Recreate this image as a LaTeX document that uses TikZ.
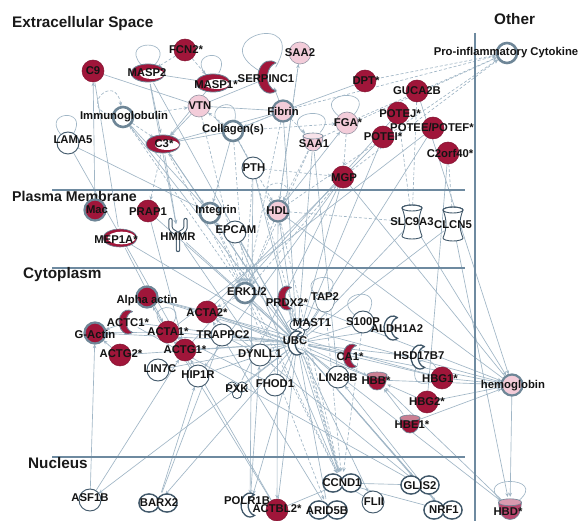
\documentclass[tikz,border=0pt]{standalone}
\usepackage{fontspec}
\setmainfont{Liberation Sans}
\usetikzlibrary{arrows.meta}
\definecolor{nred}{RGB}{160,22,58}
\definecolor{nredd}{RGB}{130,20,50}
\definecolor{npink}{RGB}{243,204,217}
\definecolor{npinkd}{RGB}{150,150,165}
\definecolor{ngrey}{RGB}{110,134,151}
\definecolor{ndark}{RGB}{65,88,106}
\definecolor{edgec}{RGB}{160,182,198}
\definecolor{sepc}{RGB}{110,138,160}
\definecolor{hbdc}{RGB}{184,69,109}
\pgfdeclarelayer{bg}
\pgfsetlayers{bg,main}
\tikzset{
  anc/.style={circle,minimum size=22pt,inner sep=0pt,draw=none},
  lab/.style={font=\fontsize{11.3}{12}\selectfont\bfseries,inner sep=0pt,text=black!92},
  ttl/.style={font=\fontsize{15.3}{17}\selectfont\bfseries,inner sep=0pt,anchor=base west,text=black!90},
  eA/.style={draw=edgec,line width=0.65pt,-{Stealth[length=4pt,width=3.5pt]}},
  lA/.style={draw=edgec,line width=0.65pt},
  dA/.style={draw=edgec,line width=0.65pt,dash pattern=on 3pt off 2pt,-{Stealth[length=4pt,width=3.5pt]}},
  sep/.style={draw=sepc,line width=1.2pt},
  pics/redc/.style={code={\filldraw[fill=nred,draw=nredd,line width=0.5pt] (0pt,0pt) circle[radius=11pt];}},
  pics/pinkc/.style={code={\filldraw[fill=npink,draw=npinkd,line width=0.6pt] (0pt,0pt) circle[radius=11pt];}},
  pics/whitec/.style={code={\filldraw[fill=white,draw=ndark,line width=0.9pt] (0pt,0pt) circle[radius=11pt];}},
  pics/ring/.style={code={\filldraw[fill=white,draw=ngrey,line width=2.6pt] (0pt,0pt) circle[radius=10pt];}},
  pics/redring/.style={code={\filldraw[fill=nred,draw=ngrey,line width=2.2pt] (0pt,0pt) circle[radius=10.5pt];}},
  pics/pinkring/.style={code={\filldraw[fill=npink,draw=ngrey,line width=2.2pt] (0pt,0pt) circle[radius=10.5pt];}},
  pics/pept/.style={code={\filldraw[fill=nred,draw=ngrey,line width=0.8pt] (0pt,0pt) ellipse[x radius=17pt,y radius=9pt];
     \fill[white] (4pt,-1pt) ellipse[x radius=12pt,y radius=5pt];}},
  pics/peptw/.style={code={\filldraw[fill=nred,draw=ngrey,line width=0.6pt] (0pt,0pt) ellipse[x radius=17pt,y radius=9pt];
     \fill[white] (1.5pt,0pt) ellipse[x radius=14pt,y radius=6.3pt];}},
  pics/rcres/.style={code={\filldraw[fill=nred,draw=ngrey,line width=0.8pt,xscale=0.75] (60:12pt) arc[start angle=60,end angle=300,radius=12pt] arc[start angle=259.1,end angle=100.9,radius=10.58pt] -- cycle;}},
  pics/wcres/.style={code={\filldraw[fill=white,draw=ndark,line width=1.3pt,xscale=0.75] (60:12pt) arc[start angle=60,end angle=300,radius=12pt] arc[start angle=259.1,end angle=100.9,radius=10.58pt] -- cycle;}},
  pics/cup/.style={code={\filldraw[fill=#1,draw=ngrey,line width=0.6pt] (-10pt,5pt) .. controls (-9pt,-6pt) and (-6pt,-10pt) .. (0pt,-10pt) .. controls (6pt,-10pt) and (9pt,-6pt) .. (10pt,5pt) -- cycle;
     \filldraw[fill=#1!55!white,draw=ngrey,line width=0.6pt] (0pt,5pt) ellipse[x radius=10pt,y radius=3pt];}},
  pics/barrel/.style={code={\filldraw[fill=white,draw=ndark,line width=0.9pt] (-10pt,14pt) .. controls (-6pt,4pt) and (-6pt,-4pt) .. (-10pt,-14pt) arc[start angle=180,end angle=360,x radius=10pt,y radius=3pt] .. controls (6pt,-4pt) and (6pt,4pt) .. (10pt,14pt) arc[start angle=0,end angle=180,x radius=10pt,y radius=3pt] -- cycle;
     \draw[ndark,line width=0.9pt] (0pt,14pt) ellipse[x radius=10pt,y radius=3pt];}},
  pics/ypic/.style={code={
     \draw[ndark,line width=4.4pt,line cap=round] (-6pt,12pt) -- (-6pt,6pt) to[out=-90,in=90] (0pt,-1pt) -- (0pt,-12pt) (6pt,12pt) -- (6pt,6pt) to[out=-90,in=90] (0pt,-1pt);
     \draw[white,line width=2.4pt,line cap=round] (-6pt,12pt) -- (-6pt,6pt) to[out=-90,in=90] (0pt,-1pt) -- (0pt,-12pt) (6pt,12pt) -- (6pt,6pt) to[out=-90,in=90] (0pt,-1pt);}},
  pics/kinase/.style={code={
     \filldraw[fill=white,draw=ndark,line width=1pt] (-5pt,3pt) circle[radius=5pt] (5pt,3pt) circle[radius=5pt] (0pt,-4pt) circle[radius=4.5pt];
     \fill[white] (-5pt,3pt) circle[radius=4.4pt] (5pt,3pt) circle[radius=4.4pt] (0pt,-4pt) circle[radius=3.9pt];}},
  pics/tr/.style={code={
     \filldraw[fill=white,draw=ndark,line width=1.6pt] (-9pt,0pt) ellipse[x radius=10pt,y radius=9pt] (9pt,0pt) ellipse[x radius=10pt,y radius=9pt];
     \fill[white] (-9pt,0pt) ellipse[x radius=9.1pt,y radius=8.1pt] (9pt,0pt) ellipse[x radius=9.1pt,y radius=8.1pt];}},
}
\newcommand\gene[6][1]{%
  \pic[scale=#1] at (#3) {#4};
  \node[anc] (#2) at (#3) {};
  \node[lab] (#2t) at (#6) {#5};
}
\begin{document}
\begin{tikzpicture}[x=1pt,y=-1pt]
\useasboundingbox (0,0) rectangle (582,521);
\begin{pgfonlayer}{bg}
\fill[white] (0,0) rectangle (582,521);
\end{pgfonlayer}

% compartments
\draw[sep] (52,190) -- (465,190);
\draw[sep] (52,268) -- (465,268);
\draw[sep] (52,457) -- (465,457);
\draw[sep] (475,33) -- (475,521);
\node[ttl] (t1) at (12,28) {Extracellular Space};
\node[ttl] (t2) at (494,25) {Other};
\node[ttl,font=\fontsize{14.2}{16}\selectfont\bfseries] (t3) at (12,202) {Plasma Membrane};
\node[ttl] (t4) at (23,279) {Cytoplasm};
\node[ttl] (t5) at (28,469) {Nucleus};

% extracellular
\gene{C9}{93,71}{redc}{C9}{93,71}
\gene{FCN2}{185,50}{redc}{FCN2*}{186,50}
\gene{MASP2}{148,73}{pept}{MASP2}{147,73}
\gene{MASP1}{213,83}{pept}{MASP1*}{216,85}
\gene[1.35]{SERPINC1}{270,77}{rcres}{SERPINC1}{266,79}
\gene{SAA2}{300,53}{pinkc}{SAA2}{300,53}
\gene{VTN}{199,106}{pinkc}{VTN}{200,106}
\gene{IG}{123,117}{ring}{Immunoglobulin}{124,117}
\gene{Fibrin}{283,111}{pinkring}{Fibrin}{283,111}
\gene{LAMA5}{68,143}{whitec}{LAMA5}{73,140}
\gene{C3}{163,144}{pept}{C3*}{164,144}
\gene{COL}{233,131}{ring}{Collagen(s)}{233,130}
\gene{PTH}{253,168}{whitec}{PTH}{254,168}
\gene{SAA1}{313,141}{cup=npink}{SAA1}{314,144}
\gene{FGA}{347,123}{pinkc}{FGA*}{348,123}
\gene{DPT}{365,81}{redc}{DPT*}{366,81}
\gene{GUCA2B}{417,91}{redc}{GUCA2B}{417,91}
\gene{POTEJ}{398,113}{redc}{POTEJ*}{400,114}
\gene{POTEE}{433,128}{redc}{POTEE/POTEF*}{432,128}
\gene{POTEI}{383,137}{redc}{POTEI*}{383,137}
\gene{C2orf40}{448,153}{redc}{C2orf40*}{450,153}
\gene{MGP}{343,177}{redc}{MGP}{344,178}
\gene{PIC}{507,53}{ring}{Pro-inflammatory Cytokine}{506,53}

% plasma membrane
\gene{Mac}{95,210}{redring}{Mac}{97,210}
\gene{PRAP1}{148,211}{redc}{PRAP1}{148,212}
\gene{MEP1A}{120,238}{peptw}{MEP1A*}{116,240}
\gene[1.25]{HMMR}{178,235}{ypic}{HMMR}{178,237}
\gene{Integrin}{210,213}{ring}{Integrin}{216,211}
\gene{EPCAM}{235,232}{whitec}{EPCAM}{236,230}
\gene{HDL}{278,211}{pinkring}{HDL}{278,211}
\gene{SLC9A3}{412,222}{barrel}{SLC9A3}{412,222}
\gene{CLCN5}{453,224}{barrel}{CLCN5}{453,225}

% cytoplasm
\gene{ERK}{245,293}{ring}{ERK1/2}{247,292}
\gene{PRDX2}{287,298}{rcres}{PRDX2*}{287,303}
\gene{TAP2}{325,302}{cup=white}{TAP2}{325,297}
\gene{MAST1}{300,328}{kinase}{MAST1}{312,323}
\gene{UBC}{297,343}{wcres}{UBC}{295,341}
\gene{ALDH1A2}{393,328}{wcres}{ALDH1A2}{397,329}
\gene{S100P}{363,322}{whitec}{S100P}{363,322}
\gene{HSD17B7}{420,357}{wcres}{HSD17B7}{419,356}
\gene{CA1}{352,356}{rcres}{CA1*}{350,357}
\gene{LIN28B}{338,377}{whitec}{LIN28B}{338,378}
\gene{HBB}{377,380}{cup=nred}{HBB*}{376,381}
\gene{HBG1}{442,378}{redc}{HBG1*}{440,379}
\gene{HBG2}{427,402}{redc}{HBG2*}{427,402}
\gene{HBE1}{410,423}{cup=nred}{HBE1*}{412,425}
\gene{HEMO}{512,385}{pinkring}{hemoglobin}{513,386}
\gene{AA}{147,297}{redring}{Alpha actin}{147,301}
\gene{ACTC1}{128,322}{rcres}{ACTC1*}{128,323}
\gene{GACT}{95,333}{redring}{G-Actin}{95,334}
\gene{ACTA1}{168,332}{redc}{ACTA1*}{168,332}
\gene{ACTA2}{207,312}{redc}{ACTA2*}{207,313}
\gene{TRAPPC2}{222,335}{whitec}{TRAPPC2}{223,335}
\gene{ACTG2}{120,355}{redc}{ACTG2*}{121,354}
\gene{ACTG1}{185,350}{redc}{ACTG1*}{185,350}
\gene{DYNLL1}{260,355}{whitec}{DYNLL1}{260,354}
\gene{LIN7C}{158,370}{whitec}{LIN7C}{160,369}
\gene{HIP1R}{198,376}{whitec}{HIP1R}{198,375}
\gene{PXK}{237,390}{kinase}{PXK}{237,389}
\gene{FHOD1}{275,385}{whitec}{FHOD1}{275,384}

% nucleus
\gene{ASF1B}{90,500}{whitec}{ASF1B}{90,498}
\gene{BARX2}{158,503}{tr}{BARX2}{159,503}
\gene{POLR1B}{250,505}{wcres}{POLR1B}{247,501}
\gene{ACTBL2}{277,510}{redc}{ACTBL2*}{277,509}
\gene{CCND1}{342,483}{tr}{CCND1}{342,483}
\gene{ARID5B}{328,510}{tr}{ARID5B}{327,511}
\gene{FLII}{373,502}{whitec}{FLII}{374,502}
\gene{GLIS2}{420,485}{tr}{GLIS2}{420,486}
\gene{NRF1}{443,510}{tr}{NRF1}{444,510}
\gene[1.15]{HBD}{510,508}{cup=hbdc}{HBD*}{508,512}

\begin{pgfonlayer}{bg}
% solid arrows
\foreach \a/\b in {MASP1/MASP2,MASP1/C3,MASP2/C3,VTN/C3,Fibrin/SERPINC1,HDL/SAA2,Mac/C9,COL/C3,Fibrin/C3,
  LAMA5/Integrin,COL/Integrin,HDL/FGA,C3/Integrin,C3/HMMR,MASP2/HMMR,
  UBC/HEMO,PRDX2/HEMO,MAST1/HEMO,HBB/HEMO,HBG1/HEMO,HBG2/HEMO,HBE1/HEMO,HEMO/HBD,HBE1/HBB,HBG2/HBB,
  CCND1/NRF1,CCND1/GLIS2,ACTA2/AA,ACTA1/GACT,ACTG2/GACT,ACTC1/GACT,ACTA1/AA,HIP1R/ACTA1,FHOD1/ACTA1,
  UBC/ACTA1,UBC/ACTA2,UBC/ACTG1,UBC/ACTC1,UBC/AA,UBC/GACT,UBC/ACTG2,UBC/TRAPPC2,UBC/CCND1,UBC/NRF1,
  UBC/GLIS2,UBC/HBD,UBC/FLII,UBC/POLR1B,UBC/ASF1B,UBC/BARX2,UBC/Integrin,UBC/HDL,UBC/C3,UBC/IG,
  UBC/HBG1,UBC/HBB,GLIS2/ACTA2,NRF1/LIN28B,HBD/HBB,SLC9A3/HEMO,GUCA2B/HEMO,CLCN5/HBD,ACTBL2/ACTG1,
  ASF1B/GACT,ASF1B/ACTG1,BARX2/TRAPPC2,BARX2/HIP1R,POLR1B/DYNLL1,FLII/CCND1,HDL/ACTBL2,PTH/POLR1B,
  MGP/HIP1R,LAMA5/ACTG1,MEP1A/ACTA1,ARID5B/ACTA2}
  \draw[eA] (\a) -- (\b);
% solid lines
\foreach \a/\b in {C9/VTN,SERPINC1/VTN,MASP1/SERPINC1,VTN/Fibrin,Fibrin/DPT,PTH/COL,Fibrin/COL,
  UBC/DYNLL1,UBC/MAST1,UBC/PRDX2,UBC/TAP2,UBC/S100P,UBC/ALDH1A2,UBC/HSD17B7,UBC/CA1,UBC/LIN28B,
  UBC/ARID5B,UBC/ACTBL2,UBC/EPCAM,UBC/HMMR,UBC/PRAP1,UBC/MEP1A,UBC/MGP,UBC/SLC9A3,UBC/CLCN5,UBC/PTH,
  UBC/Fibrin,UBC/SAA1,UBC/POTEI,UBC/LIN7C,UBC/HIP1R,UBC/PXK,UBC/FHOD1,UBC/ERK,
  POTEJ/ACTG1,POTEE/ACTA1,POTEI/ACTA2,MGP/PXK,SAA1/LIN28B,ACTBL2/ACTA1,GLIS2/ACTC1,NRF1/UBC,
  CCND1/ACTBL2,EPCAM/CCND1,C9/MEP1A,IG/Integrin,MASP2/UBC,ACTA1/ACTG1,DYNLL1/TRAPPC2,C2orf40/HBG2,
  MGP/HEMO,HDL/HEMO,POTEE/UBC,ACTA2/HBB,AA/HBG1,PRAP1/ACTG1,HMMR/DYNLL1}
  \draw[lA] (\a) -- (\b);
% dashed
\foreach \a/\b in {FCN2/MASP2,FCN2/MASP1,IG/C3,COL/FGA,Fibrin/COL,Fibrin/PIC,FGA/PIC,HDL/PIC,DPT/PIC,
  SAA1/PIC,MGP/PIC,GUCA2B/SLC9A3,C2orf40/CLCN5,PTH/MGP,PTH/ERK,Fibrin/ERK,COL/ERK,Integrin/ERK,HDL/ERK,
  MGP/ERK,SAA1/ERK,IG/ERK,C3/ERK,VTN/ERK,ERK/CCND1,HDL/CCND1,PTH/CCND1,MAST1/CCND1,TAP2/CCND1,
  PRDX2/CCND1,S100P/CCND1,ERK/ACTA2,IG/VTN,COL/VTN,SAA1/HDL,HDL/SLC9A3,POTEJ/SLC9A3,SAA2/HDL,
  Fibrin/SAA1,C3/PRAP1,COL/HDL,FGA/MGP,ERK/ARID5B,Integrin/CCND1}
  \draw[dA] (\a) -- (\b);
% self loops
\foreach \n/\o/\i/\l in {MASP2/130/50/6,MASP1/130/60/6,SERPINC1/150/60/11,FGA/140/50/6,SAA1/140/50/6,
  LAMA5/130/60/6,COL/150/80/6,S100P/140/60/6,UBC/130/60/5,HBG1/200/120/6,HBD/140/40/6,ACTA1/130/60/5,
  TAP2/140/60/5}
  \draw[lA] (\n) to[out=\o,in=\i,looseness=\l] (\n);
\draw[dA] (IG) to[out=170,in=100,looseness=7] (IG);
\draw[dA] (HDL) to[out=130,in=60,looseness=6] (HDL);
\end{pgfonlayer}
\end{tikzpicture}
\end{document}
